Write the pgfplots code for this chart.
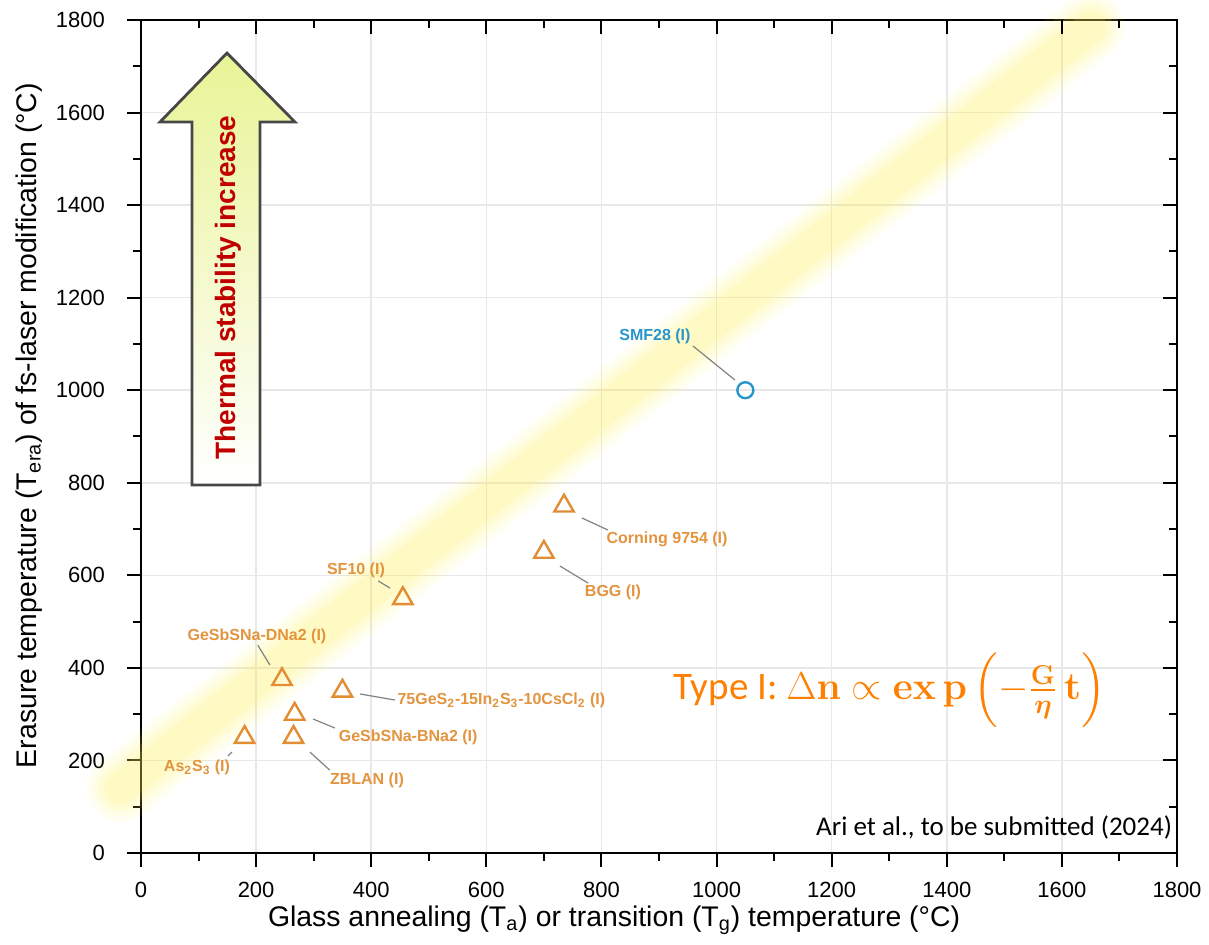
\documentclass[border=0pt]{standalone}
\usepackage{fix-cm}
\usepackage{amsmath}
\usepackage{bm}
\usepackage[no-math]{fontspec}
\setmainfont{Liberation Sans}
\newfontfamily\calibri{Carlito}
\usepackage{pgfplots}
\pgfplotsset{compat=1.18}
\definecolor{orng}{RGB}{226,140,52}
\definecolor{lblorng}{RGB}{226,148,62}
\definecolor{smfblue}{RGB}{40,150,205}
\definecolor{eqorange}{RGB}{255,128,0}
\definecolor{band}{RGB}{255,240,90}
\definecolor{arrowtop}{RGB}{232,244,150}
\definecolor{darkred}{RGB}{192,0,0}
\definecolor{leader}{RGB}{130,130,130}
\begin{document}
\begin{tikzpicture}
\pgfplotsset{
  base/.style={
    scale only axis, width=518pt, height=416.5pt,
    xmin=0, xmax=1800, ymin=0, ymax=1800,
    xtick={0,200,...,1800}, ytick={0,200,...,1800},
    minor tick num=1,
    axis line style={line width=1pt},
    major tick length=7pt, minor tick length=4pt,
    every tick/.style={black, line width=1pt},
  }
}
\begin{axis}[base,
  name=ax,
  clip=false,
  tick align=outside,
  xtick pos=left, ytick pos=left,
  grid=major,
  major grid style={gray!18, line width=0.8pt},
  tick label style={font=\fontsize{11}{13}\selectfont},
  yticklabel style={xshift=-7.5pt},
  xticklabel style={yshift=-4pt},
  /pgf/number format/assume math mode=true,
  /pgf/number format/1000 sep={},
  xlabel={Glass annealing (T\textsubscript{a}) or transition (T\textsubscript{g}) temperature (°C)},
  ylabel={Erasure temperature (T\textsubscript{era}) of fs-laser modification (°C)},
  xlabel style={font=\fontsize{14.2}{16}\selectfont, at={(axis description cs:0.4566,-0.081)}, anchor=center},
  ylabel style={font=\fontsize{14.2}{16}\selectfont, at={(axis description cs:-0.108,0.513)}, anchor=center},
]
% glowing band
\addplot[overlay, band, line width=34pt, opacity=0.07, line cap=round] coordinates {(-35,140) (1650,1785)};
\addplot[overlay, band, line width=28pt, opacity=0.10, line cap=round] coordinates {(-35,140) (1650,1785)};
\addplot[overlay, band, line width=22pt, opacity=0.12, line cap=round] coordinates {(-35,140) (1650,1785)};
\addplot[overlay, band, line width=16pt, opacity=0.12, line cap=round] coordinates {(-35,140) (1650,1785)};

% arrow
\shadedraw[top color=arrowtop, bottom color=white, draw=black!72, line width=1.4pt]
 (axis cs:88.6,795) -- (axis cs:88.6,1579.5) -- (axis cs:33,1579.5) -- (axis cs:149.4,1728.6)
 -- (axis cs:267.5,1579.5) -- (axis cs:206.7,1579.5) -- (axis cs:206.7,795) -- cycle;
\node[rotate=90, font=\bfseries\fontsize{14}{16}\selectfont, text=darkred] at (axis cs:151,1222) {Thermal stability increase};

% leader lines
\draw[leader, line width=0.6pt] (axis cs:959,1095.5) -- (axis cs:1032,1022);
\draw[leader, line width=0.6pt] (axis cs:766,724) -- (axis cs:811,698);
\draw[leader, line width=0.6pt] (axis cs:728,620) -- (axis cs:777,583);
\draw[leader, line width=0.6pt] (axis cs:412,588) -- (axis cs:432.6,572.6);
\draw[leader, line width=0.6pt] (axis cs:203,449) -- (axis cs:224,406);
\draw[leader, line width=0.6pt] (axis cs:380.5,343.6) -- (axis cs:441,330.6);
\draw[leader, line width=0.6pt] (axis cs:299,289.5) -- (axis cs:337,270);
\draw[leader, line width=0.6pt] (axis cs:293.6,218) -- (axis cs:328,179);
\draw[leader, line width=0.6pt] (axis cs:151,209.6) -- (axis cs:158,218);

% data
\addplot[only marks, mark=triangle, mark size=5.6pt, orng, mark options={line width=1.2pt}] coordinates {
 (180,250) (265,250) (267,300) (245,375) (350,350) (455,550) (700,650) (735,750)};
\addplot[only marks, mark=o, mark size=4pt, smfblue, mark options={line width=1.2pt}] coordinates {(1050,1000)};

% labels
\begin{scope}[every node/.style={font=\bfseries\fontsize{8}{9.5}\selectfont, text=lblorng, inner sep=0pt}]
\node at (axis cs:893,1117) [text=smfblue] {SMF28 (I)};
\node at (axis cs:914,678) {Corning 9754 (I)};
\node at (axis cs:820,564) {BGG (I)};
\node at (axis cs:373.5,611.5) {SF10 (I)};
\node at (axis cs:201.5,469) {GeSbSNa-DNa2 (I)};
\node at (axis cs:445,330.6) [anchor=west] {75GeS\textsubscript{2}-15In\textsubscript{2}S\textsubscript{3}-10CsCl\textsubscript{2} (I)};
\node at (axis cs:343,250.6) [anchor=west] {GeSbSNa-BNa2 (I)};
\node at (axis cs:392.6,157.7) {ZBLAN (I)};
\node at (axis cs:97.3,185.8) {As\textsubscript{2}S\textsubscript{3} (I)};
\end{scope}

% equation and credit
\node[font=\calibri\fontsize{19.5}{22}\selectfont, text=eqorange] at (axis cs:1301,352)
 {Type I: $\Delta\mathbf{n} \propto \mathbf{ex\,p}\left(-\frac{\mathbf{G}}{\bm{\eta}}\,\mathbf{t}\right)$};
\node[font=\calibri\fontsize{13.5}{15}\selectfont, anchor=east, inner sep=0pt] at (axis cs:1792,56) {Ari et al., to be submitted (2024)};
\end{axis}
\begin{axis}[base,
  tick align=inside,
  xtick pos=right, ytick pos=right,
  xticklabels={}, yticklabels={},
  axis line style={draw=none},
]
\end{axis}
\path (ax.south west) +(-70.5pt,-46pt);
\path (ax.north east) +(16pt,10pt);
\end{tikzpicture}
\end{document}
